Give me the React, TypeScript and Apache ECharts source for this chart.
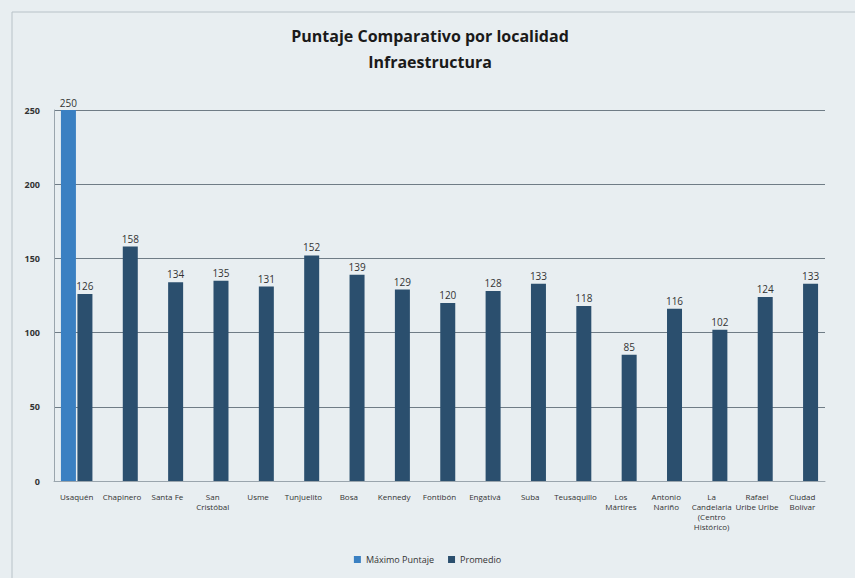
import React, { useEffect, useRef } from "react";
import * as echarts from "echarts";

const categories = [
  "Usaquén", "Chapinero", "Santa Fe", "San\nCristóbal", "Usme", "Tunjuelito", "Bosa",
  "Kennedy", "Fontibón", "Engativá", "Suba", "Teusaquillo", "Los\nMártires",
  "Antonio\nNariño", "La\nCandelaria\n(Centro\nHistórico)", "Rafael\nUribe Uribe", "Ciudad\nBolívar",
];
const maximoPuntaje: (number | null)[] = [250, null, null, null, null, null, null, null, null, null, null, null, null, null, null, null, null];
const promedio = [126, 158, 134, 135, 131, 152, 139, 129, 120, 128, 133, 118, 85, 116, 102, 124, 133];
const yTicks = { min: 0, max: 250, interval: 50 };

export default function App() {
  const ref = useRef<HTMLDivElement>(null);
  useEffect(() => {
    const chart = echarts.init(ref.current!, null, { renderer: "svg" });
    const font = "'Open Sans', Lato, sans-serif";
    chart.setOption({
      animation: false,
      backgroundColor: "#e8eef1",
      textStyle: { fontFamily: font },
      title: {
        text: "Puntaje Comparativo por localidad\nInfraestructura",
        left: 425,
        textAlign: "center",
        top: 18,
        textStyle: { fontSize: 16, fontWeight: "bold", color: "#1a1a1a", lineHeight: 26, fontFamily: font },
      },
      graphic: [
        { type: "line", shape: { x1: 12, y1: 12, x2: 12, y2: 578 }, style: { stroke: "#b8c2c8", lineWidth: 1 } },
        { type: "line", shape: { x1: 12, y1: 12, x2: 855, y2: 12 }, style: { stroke: "#b8c2c8", lineWidth: 1 } },
      ],
      legend: {
        bottom: 9,
        left: "center",
        itemWidth: 7,
        itemHeight: 7,
        itemGap: 14,
        icon: "rect",
        textStyle: { fontSize: 9, color: "#333", fontFamily: font },
        data: ["Máximo Puntaje", "Promedio"],
      },
      grid: { left: 54, right: 30, top: 110, bottom: 97 },
      xAxis: {
        type: "category",
        data: categories,
        axisLine: { lineStyle: { color: "#9aa5ad" } },
        axisTick: { show: false },
        axisLabel: { fontSize: 8, color: "#333", interval: 0, lineHeight: 10, margin: 10 },
      },
      yAxis: {
        type: "value",
        min: yTicks.min,
        max: yTicks.max,
        interval: yTicks.interval,
        axisLine: { show: true, lineStyle: { color: "#9aa5ad" } },
        axisTick: { show: false },
        axisLabel: { fontSize: 9, color: "#333", fontWeight: "bold", margin: 14 },
        splitLine: { lineStyle: { color: "#6f7c86", width: 1 } },
      },
      series: [
        {
          name: "Máximo Puntaje",
          type: "bar",
          data: maximoPuntaje,
          barWidth: 15,
          barGap: "10%",
          itemStyle: { color: "#3a80c2" },
          label: { show: true, position: "top", fontSize: 10, color: "#333", distance: 2 },
        },
        {
          name: "Promedio",
          type: "bar",
          data: promedio,
          barWidth: 15,
          itemStyle: { color: "#2b4f6e" },
          label: { show: true, position: "top", fontSize: 10, color: "#333", distance: 3 },
        },
      ],
    });
    return () => chart.dispose();
  }, []);
  return <div ref={ref} style={{ width: 855, height: 578, position: "absolute", left: 0, top: 0 }} />;
}
